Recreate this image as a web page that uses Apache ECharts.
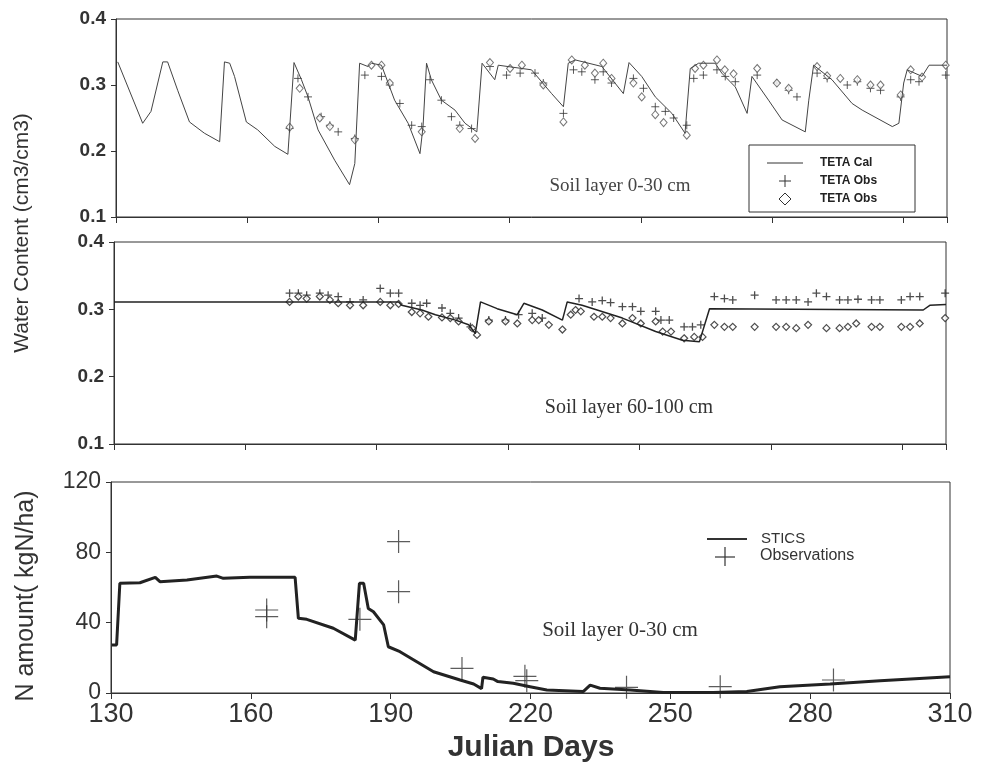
<!DOCTYPE html>
<html>
<head>
    <meta charset="utf-8">
    <script src="https://cdn.jsdelivr.net/npm/echarts@6/dist/echarts.min.js"></script>
    <style>
        body { margin: 0; background: #fff; }
        #chart { width: 983px; height: 776px; }
    </style>
</head>
<body>
    <div id="chart"></div>
<script type="text/javascript">
    // soil layer 0-30 cm, water content (day, cm3/cm3)
    let topCal = [
        [130.4, 0.335], [136.1, 0.242], [138.0, 0.260], [140.7, 0.335], [141.8, 0.335],
        [144.1, 0.292], [146.8, 0.244], [150.2, 0.227], [153.7, 0.214], [154.8, 0.335],
        [156.0, 0.333], [157.1, 0.313], [159.8, 0.244], [162.4, 0.232], [166.3, 0.207],
        [169.3, 0.195], [169.7, 0.234], [170.7, 0.334], [172.4, 0.308], [173.9, 0.282],
        [176.2, 0.232], [180.0, 0.186], [183.4, 0.149], [184.6, 0.181], [185.7, 0.333],
        [187.6, 0.328], [188.4, 0.333], [190.7, 0.330], [193.7, 0.277], [196.8, 0.242],
        [199.5, 0.196], [200.2, 0.237], [201.0, 0.333], [202.1, 0.308], [204.4, 0.277],
        [207.5, 0.262], [209.8, 0.242], [212.5, 0.229], [213.7, 0.333], [216.6, 0.308],
        [217.4, 0.330], [225.0, 0.323], [229.6, 0.287], [232.3, 0.267], [233.4, 0.333],
        [235.0, 0.338], [241.1, 0.328], [246.0, 0.287], [247.3, 0.334], [250.2, 0.313],
        [253.3, 0.282], [257.1, 0.257], [260.1, 0.227], [261.3, 0.325], [263.2, 0.333],
        [267.0, 0.333], [268.5, 0.318], [271.6, 0.297], [274.3, 0.257], [275.4, 0.313],
        [279.2, 0.277], [282.3, 0.247], [287.6, 0.229], [288.4, 0.277], [289.5, 0.330],
        [293.7, 0.308], [298.3, 0.272], [300.6, 0.262], [307.5, 0.237], [309.0, 0.242],
        [310.1, 0.303], [310.9, 0.323], [314.3, 0.313], [315.9, 0.330], [320.0, 0.330]
    ]
    let topPlus = [
        [169.7, 0.234], [171.6, 0.310], [173.9, 0.282], [176.9, 0.252], [178.9, 0.239],
        [180.8, 0.229], [184.6, 0.219], [186.9, 0.315], [190.7, 0.313], [192.6, 0.300],
        [194.9, 0.272], [197.6, 0.239], [199.9, 0.237], [201.8, 0.308], [204.4, 0.277],
        [206.7, 0.252], [208.6, 0.239], [211.3, 0.234], [215.5, 0.328], [219.3, 0.315],
        [222.4, 0.318], [225.8, 0.318], [227.7, 0.303], [232.3, 0.257], [234.6, 0.323],
        [236.5, 0.320], [239.5, 0.308], [241.4, 0.320], [243.3, 0.303], [248.3, 0.310],
        [250.6, 0.295], [253.3, 0.267], [255.6, 0.260], [257.5, 0.250], [260.5, 0.239],
        [262.1, 0.310], [264.3, 0.315], [267.4, 0.323], [269.3, 0.313], [271.6, 0.305],
        [276.6, 0.315], [281.1, 0.303], [283.8, 0.292], [285.7, 0.282], [290.3, 0.318],
        [292.6, 0.310], [297.2, 0.300], [299.5, 0.305], [302.5, 0.295], [304.8, 0.292],
        [309.4, 0.282], [311.7, 0.308], [313.6, 0.305], [319.7, 0.315]
    ]
    let topDiamond = [
        [169.7, 0.236], [172.0, 0.295], [176.6, 0.250], [178.9, 0.237], [184.6, 0.217],
        [188.4, 0.330], [190.7, 0.330], [192.6, 0.303], [199.9, 0.229], [208.6, 0.234],
        [212.1, 0.219], [215.5, 0.334], [220.1, 0.325], [222.8, 0.330], [227.7, 0.300],
        [232.3, 0.244], [234.2, 0.338], [237.2, 0.330], [239.5, 0.318], [241.4, 0.333],
        [243.3, 0.310], [248.3, 0.303], [250.2, 0.282], [253.3, 0.255], [255.2, 0.243],
        [260.5, 0.224], [262.4, 0.325], [264.3, 0.330], [267.4, 0.338], [269.2, 0.323],
        [271.2, 0.317], [276.6, 0.325], [281.1, 0.303], [283.8, 0.295], [290.3, 0.328],
        [292.6, 0.314], [295.6, 0.310], [299.5, 0.308], [302.5, 0.300], [304.8, 0.300],
        [309.4, 0.285], [311.7, 0.323], [314.3, 0.312], [319.7, 0.330]
    ]

    // soil layer 60-100 cm
    let midCal = [
        [130, 0.311], [195, 0.311], [195.7, 0.306], [200.3, 0.299], [203.4, 0.292],
        [208.0, 0.284], [211.0, 0.277], [212.5, 0.264], [213.7, 0.311], [217.5, 0.301],
        [222.1, 0.292], [223.6, 0.309], [227.8, 0.299], [232.4, 0.284], [233.5, 0.311],
        [236.9, 0.306], [246.1, 0.287], [253.7, 0.267], [259.8, 0.254], [263.7, 0.252],
        [266.0, 0.301], [314.8, 0.299], [316.3, 0.306], [320.0, 0.307]
    ]
    let midPlus = [
        [170.1, 0.324], [172.1, 0.324], [174.0, 0.321], [177.0, 0.324], [178.9, 0.321],
        [181.2, 0.319], [183.9, 0.311], [186.9, 0.314], [190.8, 0.331], [193.1, 0.324],
        [195.0, 0.324], [198.0, 0.309], [199.9, 0.306], [201.4, 0.309], [204.9, 0.302],
        [206.8, 0.294], [208.7, 0.287], [211.4, 0.274], [215.6, 0.284], [219.4, 0.284],
        [222.4, 0.292], [225.5, 0.294], [227.8, 0.287], [236.2, 0.316], [239.2, 0.311],
        [241.5, 0.313], [243.4, 0.310], [246.1, 0.304], [248.4, 0.304], [250.3, 0.297],
        [253.7, 0.297], [254.9, 0.284], [256.8, 0.284], [260.2, 0.274], [262.1, 0.274],
        [264.0, 0.277], [267.1, 0.319], [269.4, 0.316], [271.3, 0.314], [276.3, 0.321],
        [281.2, 0.314], [283.5, 0.314], [285.8, 0.314], [288.5, 0.311], [290.4, 0.324],
        [292.7, 0.319], [295.7, 0.314], [297.6, 0.314], [299.9, 0.315], [303.0, 0.314],
        [304.9, 0.314], [309.8, 0.314], [311.8, 0.319], [314.0, 0.319], [319.8, 0.324]
    ]
    let midDiamond = [
        [170.1, 0.311], [172.1, 0.319], [174.0, 0.316], [177.0, 0.319], [179.3, 0.314],
        [181.2, 0.309], [183.9, 0.306], [186.9, 0.306], [190.8, 0.311], [193.1, 0.306],
        [195.0, 0.308], [198.0, 0.296], [199.9, 0.294], [201.8, 0.289], [204.9, 0.288],
        [206.8, 0.287], [208.7, 0.282], [211.8, 0.272], [212.9, 0.262], [215.6, 0.282],
        [219.4, 0.282], [222.1, 0.279], [225.5, 0.284], [227.0, 0.284], [229.3, 0.277],
        [232.4, 0.270], [234.3, 0.292], [235.4, 0.299], [236.6, 0.297], [239.6, 0.289],
        [241.5, 0.289], [243.4, 0.287], [246.1, 0.279], [248.4, 0.287], [250.3, 0.279],
        [253.7, 0.282], [255.3, 0.267], [257.2, 0.267], [260.2, 0.257], [262.5, 0.259],
        [264.4, 0.259], [267.1, 0.277], [269.4, 0.274], [271.3, 0.274], [276.3, 0.274],
        [281.2, 0.274], [283.5, 0.274], [285.8, 0.272], [288.5, 0.277], [292.7, 0.272],
        [295.7, 0.272], [297.6, 0.274], [299.5, 0.279], [303.0, 0.274], [304.9, 0.274],
        [309.8, 0.274], [311.8, 0.274], [314.0, 0.279], [319.8, 0.287]
    ]

    // N amount, soil layer 0-30 cm (kgN/ha)
    let stics = [
        [130.2, 27.3], [131.2, 27.3], [131.9, 62.4], [136.2, 62.7], [139.5, 65.8],
        [140.5, 63.3], [146.3, 64.3], [152.7, 66.5], [154.1, 65.2], [159.8, 65.8],
        [169.5, 65.8], [170.2, 42.5], [172.0, 41.9], [177.7, 36.8], [182.4, 30.1],
        [183.3, 62.4], [184.2, 62.4], [185.2, 48.1], [186.3, 46.2], [188.5, 38.7],
        [189.5, 26.3], [192.0, 23.5], [195.6, 17.8], [199.2, 12.1], [204.9, 7.4],
        [207.8, 5.1], [209.5, 2.5], [209.8, 9.0], [212.0, 8.0], [213.0, 6.5],
        [216.3, 5.5], [219.9, 3.6], [223.5, 1.7], [231.3, 0.8], [232.8, 4.5],
        [234.9, 2.7], [241.4, 1.7], [248.5, 0.3], [259.2, 0.3], [266.4, 0.8],
        [273.5, 3.6], [284.3, 5.1], [295.0, 7.0], [310.0, 9.3]
    ]
    let nObs = [
        [163.4, 47.2], [163.4, 43.4], [183.4, 41.9], [191.7, 86.1], [191.7, 57.6],
        [205.3, 14.0], [218.8, 9.5], [219.2, 7.0], [240.6, 3.2], [260.7, 3.6],
        [285.0, 7.4]
    ]

    let plusPath = 'path://M0,5L10,5M5,0L5,10'

    let myChart = echarts.init(document.getElementById('chart'))

    function yAxisFor(idx, min, max, step, size, bold, digits) {
        return {
            type: 'value', gridIndex: idx, min: min, max: max, interval: step,
            axisLine: { show: true, lineStyle: { color: '#333' } },
            axisTick: { show: true, length: 5, lineStyle: { color: '#333' } },
            splitLine: { show: false },
            axisLabel: {
                fontSize: size, fontWeight: bold ? 'bold' : 'normal', color: '#333',
                fontFamily: 'Liberation Sans, Arial', margin: 10,
                formatter: v => v.toFixed(digits)
            }
        }
    }

    function xAxisFor(idx, max, labels) {
        return {
            type: 'value', gridIndex: idx, min: 130, max: max, interval: 30,
            axisLine: { show: true, lineStyle: { color: '#333' } },
            axisTick: { show: true, length: 6, lineStyle: { color: '#333' } },
            splitLine: { show: false },
            axisLabel: labels ? {
                fontSize: 27, color: '#333', fontFamily: 'Liberation Sans, Arial', margin: 8
            } : { show: false }
        }
    }

    let gridStyle = { show: true, borderColor: '#333', borderWidth: 1, backgroundColor: 'transparent' }

    let option = {
        animation: false,
        backgroundColor: '#fff',
        grid: [
            Object.assign({ left: 116, top: 19, right: 36, height: 198 }, gridStyle),
            Object.assign({ left: 114, top: 242, right: 37, height: 202 }, gridStyle),
            Object.assign({ left: 111, top: 482, right: 33, height: 211 }, gridStyle)
        ],
        xAxis: [xAxisFor(0, 320, false), xAxisFor(1, 320, false), xAxisFor(2, 310, true)],
        yAxis: [
            yAxisFor(0, 0.1, 0.4, 0.1, 19, true, 1),
            yAxisFor(1, 0.1, 0.4, 0.1, 19, true, 1),
            yAxisFor(2, 0, 120, 40, 23, false, 0)
        ],
        series: [
            {
                name: 'TETA Cal', type: 'line', xAxisIndex: 0, yAxisIndex: 0, data: topCal,
                showSymbol: false, lineStyle: { color: '#444', width: 1 }
            },
            {
                name: 'TETA Obs +', type: 'scatter', xAxisIndex: 0, yAxisIndex: 0, data: topPlus,
                symbol: plusPath, symbolSize: 8,
                itemStyle: { color: 'none', borderColor: '#333', borderWidth: 1 }
            },
            {
                name: 'TETA Obs ◇', type: 'scatter', xAxisIndex: 0, yAxisIndex: 0, data: topDiamond,
                symbol: 'diamond', symbolSize: [7, 8],
                itemStyle: { color: '#fff', borderColor: '#555', borderWidth: 1 }
            },
            {
                name: 'Cal 60-100', type: 'line', xAxisIndex: 1, yAxisIndex: 1, data: midCal,
                showSymbol: false, lineStyle: { color: '#222', width: 1.5 }
            },
            {
                name: 'Obs + 60-100', type: 'scatter', xAxisIndex: 1, yAxisIndex: 1, data: midPlus,
                symbol: plusPath, symbolSize: 8,
                itemStyle: { color: 'none', borderColor: '#222', borderWidth: 1.3 }
            },
            {
                name: 'Obs ◇ 60-100', type: 'scatter', xAxisIndex: 1, yAxisIndex: 1, data: midDiamond,
                symbol: 'diamond', symbolSize: [7, 7],
                itemStyle: { color: '#fff', borderColor: '#222', borderWidth: 1.2 }
            },
            {
                name: 'STICS', type: 'line', xAxisIndex: 2, yAxisIndex: 2, data: stics,
                showSymbol: false, lineStyle: { color: '#222', width: 3 }
            },
            {
                name: 'Observations', type: 'scatter', xAxisIndex: 2, yAxisIndex: 2, data: nObs,
                symbol: plusPath, symbolSize: 23,
                itemStyle: { color: 'none', borderColor: '#333', borderWidth: 1.2 }
            }
        ],
        graphic: [
            {
                type: 'text', x: 22, y: 233, rotation: Math.PI / 2,
                style: {
                    text: 'Water Content (cm3/cm3)', fill: '#333', fontSize: 21,
                    fontFamily: 'Liberation Sans, Arial', align: 'center', verticalAlign: 'middle'
                }
            },
            {
                type: 'text', x: 26, y: 596, rotation: Math.PI / 2,
                style: {
                    text: 'N amount( kgN/ha)', fill: '#333', fontSize: 25,
                    fontFamily: 'Liberation Sans, Arial', align: 'center', verticalAlign: 'middle'
                }
            },
            {
                type: 'text', x: 531, y: 748,
                style: {
                    text: 'Julian Days', fill: '#333', fontSize: 30, fontWeight: 'bold',
                    fontFamily: 'Liberation Sans, Arial', align: 'center', verticalAlign: 'middle'
                }
            },
            {
                type: 'text', x: 620, y: 186,
                style: {
                    text: 'Soil layer 0-30 cm', fill: '#444', fontSize: 19,
                    fontFamily: 'Liberation Serif, Times New Roman', align: 'center', verticalAlign: 'middle'
                }
            },
            {
                type: 'text', x: 629, y: 408,
                style: {
                    text: 'Soil layer 60-100 cm', fill: '#333', fontSize: 20,
                    fontFamily: 'Liberation Serif, Times New Roman', align: 'center', verticalAlign: 'middle'
                }
            },
            {
                type: 'text', x: 620, y: 630,
                style: {
                    text: 'Soil layer 0-30 cm', fill: '#333', fontSize: 21,
                    fontFamily: 'Liberation Serif, Times New Roman', align: 'center', verticalAlign: 'middle'
                }
            },
            // legend, top panel
            {
                type: 'rect', shape: { x: 749, y: 145, width: 166, height: 67 },
                style: { fill: '#fff', stroke: '#333', lineWidth: 1 }, z: 10
            },
            { type: 'line', shape: { x1: 767, y1: 163, x2: 803, y2: 163 }, style: { stroke: '#333', lineWidth: 1 }, z: 11 },
            { type: 'line', shape: { x1: 779, y1: 181, x2: 791, y2: 181 }, style: { stroke: '#333', lineWidth: 1 }, z: 11 },
            { type: 'line', shape: { x1: 785, y1: 175, x2: 785, y2: 187 }, style: { stroke: '#333', lineWidth: 1 }, z: 11 },
            {
                type: 'polygon', shape: { points: [[785, 193], [791, 199], [785, 205], [779, 199]] },
                style: { fill: '#fff', stroke: '#333', lineWidth: 1 }, z: 11
            },
            {
                type: 'text', x: 820, y: 163, z: 11,
                style: { text: 'TETA Cal', fill: '#222', fontSize: 12, fontWeight: 'bold', fontFamily: 'Liberation Sans, Arial', verticalAlign: 'middle' }
            },
            {
                type: 'text', x: 820, y: 181, z: 11,
                style: { text: 'TETA Obs', fill: '#222', fontSize: 12, fontWeight: 'bold', fontFamily: 'Liberation Sans, Arial', verticalAlign: 'middle' }
            },
            {
                type: 'text', x: 820, y: 199, z: 11,
                style: { text: 'TETA Obs', fill: '#222', fontSize: 12, fontWeight: 'bold', fontFamily: 'Liberation Sans, Arial', verticalAlign: 'middle' }
            },
            // legend, bottom panel
            { type: 'line', shape: { x1: 707, y1: 539, x2: 747, y2: 539 }, style: { stroke: '#333', lineWidth: 2 }, z: 11 },
            { type: 'line', shape: { x1: 715, y1: 557, x2: 735, y2: 557 }, style: { stroke: '#333', lineWidth: 1.2 }, z: 11 },
            { type: 'line', shape: { x1: 725, y1: 547, x2: 725, y2: 566 }, style: { stroke: '#333', lineWidth: 1.2 }, z: 11 },
            {
                type: 'text', x: 761, y: 539, z: 11,
                style: { text: 'STICS', fill: '#333', fontSize: 15, fontFamily: 'Liberation Sans, Arial', verticalAlign: 'middle' }
            },
            {
                type: 'text', x: 760, y: 556, z: 11,
                style: { text: 'Observations', fill: '#333', fontSize: 16, fontFamily: 'Liberation Sans, Arial', verticalAlign: 'middle' }
            }
        ]
    }

    myChart.setOption(option)
</script>
</body>
</html>
